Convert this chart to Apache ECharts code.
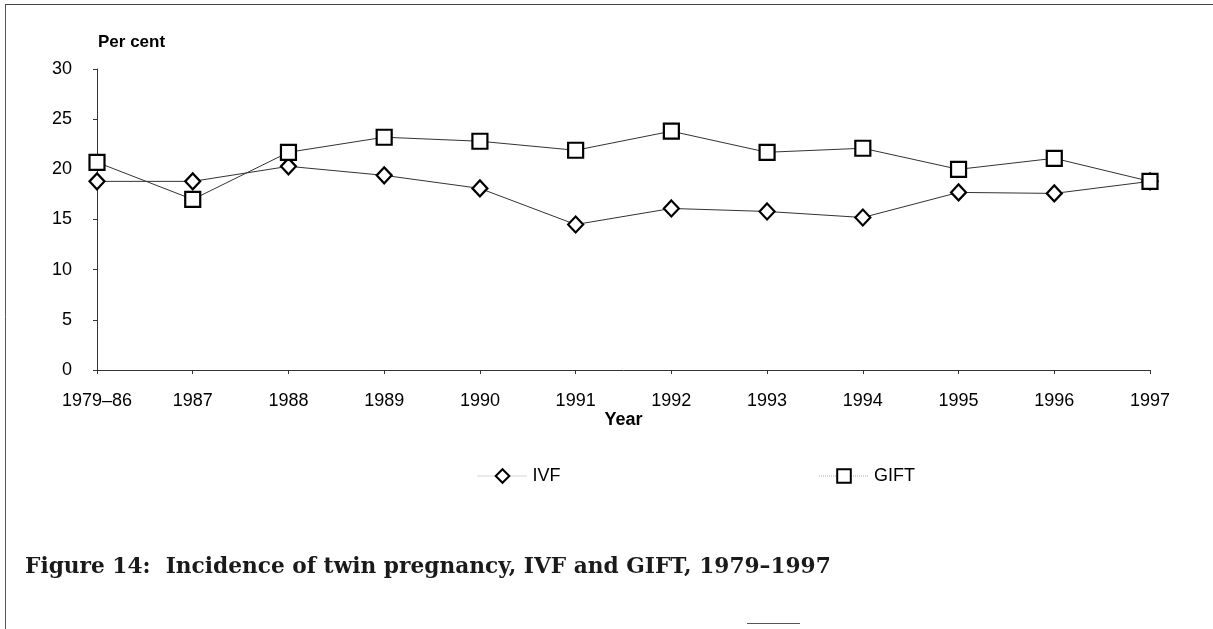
<!DOCTYPE html>
<html>
<head>
<meta charset="utf-8">
<script src="https://cdn.jsdelivr.net/npm/echarts@6/dist/echarts.min.js"></script>
<style>html,body{margin:0;padding:0;background:#fff;}#c{width:1213px;height:629px;}</style>
</head>
<body>
<div id="c"></div>
<script>
const categories = ['1979\u201386','1987','1988','1989','1990','1991','1992','1993','1994','1995','1996','1997'];
const ivf  = [18.8, 18.8, 20.3, 19.4, 18.1, 14.5, 16.1, 15.8, 15.2, 17.7, 17.6, 18.8];
const gift = [20.7, 17.0, 21.7, 23.2, 22.8, 21.9, 23.8, 21.7, 22.1, 20.0, 21.1, 18.8];
const yTicks = [0, 5, 10, 15, 20, 25, 30];

const chart = echarts.init(document.getElementById('c'), null, {renderer: 'canvas'});
const sans = 'Liberation Sans, Arial, sans-serif';
chart.setOption({
  animation: false,
  backgroundColor: '#fff',
  grid: {left: 97, right: 63, top: 69, bottom: 259, containLabel: false},
  xAxis: {
    type: 'category',
    data: categories,
    boundaryGap: false,
    axisLine: {lineStyle: {color: '#333', width: 1}},
    axisTick: {show: true, length: 4, alignWithLabel: true, lineStyle: {color: '#333'}},
    axisLabel: {color: '#000', fontFamily: sans, fontSize: 18, margin: 22, interval: 0},
    name: 'Year',
    nameLocation: 'middle',
    nameGap: 41,
    nameTextStyle: {color: '#000', fontFamily: sans, fontSize: 18, fontWeight: 'bold'}
  },
  yAxis: {
    type: 'value',
    min: yTicks[0],
    max: yTicks[yTicks.length - 1],
    interval: 5,
    splitLine: {show: false},
    axisLine: {show: true, lineStyle: {color: '#333', width: 1}},
    axisTick: {show: true, length: 4, lineStyle: {color: '#333'}},
    axisLabel: {color: '#000', fontFamily: sans, fontSize: 18, margin: 25}
  },
  legend: {
    left: 472,
    top: 462,
    itemWidth: 50,
    itemHeight: 17,
    itemGap: 258,
    textStyle: {color: '#000', fontFamily: sans, fontSize: 18},
    lineStyle: {type: 'dotted', color: '#aaa', width: 1},
    data: ['IVF', 'GIFT']
  },
  graphic: [
    {type: 'text', left: 98, top: 34, style: {text: 'Per cent', fill: '#000', font: 'bold 17px ' + sans}},
    {type: 'text', left: 25, top: 556, style: {text: 'Figure 14:  Incidence of twin pregnancy, IVF and GIFT, 1979\u20131997', fill: '#1a1a1a', font: 'bold 21.7px "DejaVu Serif", serif'}},
    {type: 'line', shape: {x1: 5, y1: 4.5, x2: 1213, y2: 4.5}, style: {stroke: '#444', lineWidth: 1}},
    {type: 'line', shape: {x1: 5.5, y1: 4, x2: 5.5, y2: 629}, style: {stroke: '#555', lineWidth: 1}},
    {type: 'line', shape: {x1: 747, y1: 623.5, x2: 800, y2: 623.5}, style: {stroke: '#555', lineWidth: 1}}
  ],
  series: [
    {
      name: 'IVF', type: 'line', data: ivf,
      symbol: 'diamond', symbolSize: [15, 16],
      lineStyle: {color: '#333', width: 1},
      itemStyle: {color: '#fff', borderColor: '#000', borderWidth: 2.2}
    },
    {
      name: 'GIFT', type: 'line', data: gift,
      symbol: 'rect', symbolSize: [15, 15],
      lineStyle: {color: '#333', width: 1},
      itemStyle: {color: '#fff', borderColor: '#000', borderWidth: 2.2}
    }
  ]
});
</script>
</body>
</html>
